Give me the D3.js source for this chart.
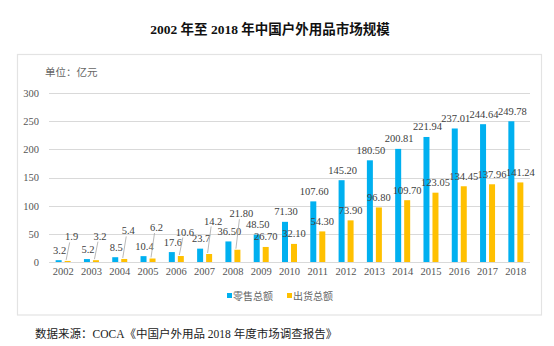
<!DOCTYPE html>
<html><head><meta charset="utf-8">
<script src="https://cdn.jsdelivr.net/npm/d3@7"></script>
<style>body{margin:0;background:#fff}</style>
</head><body>
<script>
const years = ["2002","2003","2004","2005","2006","2007","2008","2009","2010","2011","2012","2013","2014","2015","2016","2017","2018"];
const retail = [3.2,5.2,8.5,10.4,17.6,23.7,36.5,48.5,71.3,107.6,145.2,180.5,200.81,221.94,237.01,244.64,249.78];
const shipment = [1.9,3.2,5.4,6.2,10.6,14.2,21.8,26.7,32.1,54.3,73.9,96.8,109.7,123.05,134.45,137.96,141.24];
const retailLabels = ["3.2","5.2","8.5","10.4","17.6","23.7","36.50","48.50","71.30","107.60","145.20","180.50","200.81","221.94","237.01","244.64","249.78"];
const shipmentLabels = ["1.9","3.2","5.4","6.2","10.6","14.2","21.80","26.70","32.10","54.30","73.90","96.80","109.70","123.05","134.45","137.96","141.24"];
const yTicks = [0,50,100,150,200,250,300];
const seriesNames = ["零售总额","出货总额"];
const colors = ["#00B0F0","#FFC000"];
// extra lift (px) for shipment labels moved up with leader lines
const shipLift = [14,14,18,21,14,23,26,0,0,0,0,0,0,0,0,0,0];

const W=554,H=346;
const svg=d3.select("body").append("svg").attr("width",W).attr("height",H);
const serif="'Liberation Serif','Times New Roman','Noto Sans CJK SC',serif";
const cjk="'Liberation Serif','Noto Sans CJK SC',sans-serif";

svg.append("text").attr("x",270).attr("y",34).attr("text-anchor","middle")
  .attr("font-family",cjk).attr("font-weight","bold").attr("font-size",13.5).attr("fill","#111")
  .text("2002 年至 2018 年中国户外用品市场规模");

svg.append("rect").attr("x",17.5).attr("y",54.5).attr("width",524).attr("height",260.5)
  .attr("fill","none").attr("stroke","#e3e3e3").attr("stroke-width",1.2);

const x=d3.scaleBand().domain(years).range([49,530]).padding(0);
const y=d3.scaleLinear().domain([0,300]).range([262,93]);

svg.append("text").attr("x",45).attr("y",76).attr("font-family","'Noto Sans CJK SC',sans-serif")
  .attr("font-size",10.5).attr("fill","#666").text("单位：亿元");

const g=svg.append("g");
g.selectAll("line.grid").data(yTicks).join("line")
  .attr("x1",49).attr("x2",530).attr("y1",d=>Math.round(y(d))+0.5).attr("y2",d=>Math.round(y(d))+0.5)
  .attr("stroke","#d9d9d9").attr("stroke-width",1);
const yAxis=d3.axisLeft(y).tickValues(yTicks).tickSize(0).tickPadding(0);
svg.append("g").attr("transform","translate(39,0)").call(yAxis)
  .call(s=>s.select(".domain").remove())
  .call(s=>s.selectAll("text").attr("font-family",serif).attr("font-size",10.5).attr("fill","#555"));
const xAxis=d3.axisBottom(x).tickSize(0).tickPadding(0);
svg.append("g").attr("transform","translate(0,268)").call(xAxis)
  .call(s=>s.select(".domain").remove())
  .call(s=>s.selectAll("text").attr("font-family",serif).attr("font-size",10.5).attr("fill","#555").attr("dy","0.71em"));

const bw=6, gap=1.5, lab=6.5;
const bx=(i,s)=> s===0 ? x(years[i])+x.bandwidth()/2-gap-bw : x(years[i])+x.bandwidth()/2+gap;
const series=[retail,shipment];
series.forEach((arr,s)=>{
  g.selectAll("rect.s"+s).data(arr).join("rect")
    .attr("x",(d,i)=>bx(i,s)).attr("width",bw)
    .attr("y",d=>y(d)).attr("height",d=>y(0)-y(d)).attr("fill",colors[s]);
});
// retail labels
g.selectAll("text.rl").data(retail).join("text")
  .attr("x",(d,i)=>bx(i,0)+bw/2+1).attr("y",d=>y(d)-lab)
  .attr("text-anchor","middle").attr("font-family",serif).attr("font-size",10.5).attr("fill","#404040")
  .text((d,i)=>retailLabels[i]);
// shipment labels + leader lines
g.selectAll("line.lead").data(shipment.map((d,i)=>i).filter(i=>shipLift[i]>0)).join("line")
  .attr("x1",i=>bx(i,1)+1.5).attr("y1",i=>y(shipment[i])-1)
  .attr("x2",i=>bx(i,1)+5).attr("y2",i=>y(shipment[i])-lab-shipLift[i]+2)
  .attr("stroke","#a6a6a6").attr("stroke-width",0.8);
g.selectAll("text.sl").data(shipment).join("text")
  .attr("x",(d,i)=>bx(i,1)+bw/2+(shipLift[i]>0?4:0)).attr("y",(d,i)=>y(d)-lab-shipLift[i])
  .attr("text-anchor","middle").attr("font-family",serif).attr("font-size",10.5).attr("fill","#404040")
  .text((d,i)=>shipmentLabels[i]);

// legend
const leg=svg.append("g");
const lx=[227,287];
seriesNames.forEach((n,i)=>{
  leg.append("rect").attr("x",lx[i]).attr("y",293).attr("width",5).attr("height",5).attr("fill",colors[i]);
  leg.append("text").attr("x",lx[i]+6).attr("y",300).attr("font-family","'Noto Sans CJK SC',sans-serif")
    .attr("font-size",10).attr("fill","#666").text(n);
});

svg.append("text").attr("x",35).attr("y",338).attr("font-family",cjk)
  .attr("font-size",11.5).attr("fill","#222").text("数据来源：COCA《中国户外用品 2018 年度市场调查报告》");
</script>
</body></html>
